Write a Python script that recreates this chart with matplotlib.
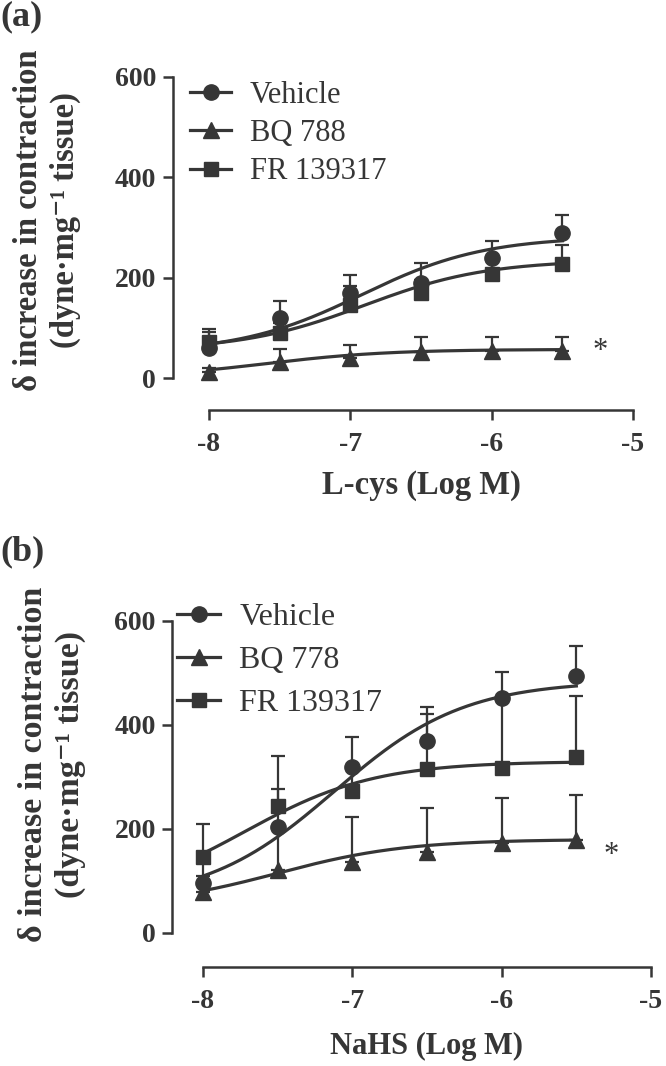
import numpy as np
import matplotlib
matplotlib.use("Agg")
import matplotlib.pyplot as plt

plt.rcParams["font.family"] = ["Liberation Serif", "DejaVu Serif"]

INK = "#363636"
W, H = 666, 1066

# log concentrations
logc = [-8, -7.5, -7, -6.5, -6, -5.5]

# panel (a): L-cys
a_names = ["Vehicle", "BQ 788", "FR 139317"]
a_mean = {"Vehicle": [59, 119, 170, 190, 240, 289],
          "BQ 788": [12, 32, 40, 51, 53, 53],
          "FR 139317": [71, 89, 145, 170, 208, 228]}
a_sem = {"Vehicle": [38, 35, 36, 40, 33, 36],
         "BQ 788": [8, 25, 25, 30, 28, 28],
         "FR 139317": [20, 20, 39, 26, 25, 37]}
# fitted sigmoid (bottom, top, logEC50, hill)
a_fit = {"Vehicle": (50, 282, -6.92, 1.0),
         "BQ 788": (0, 57, -7.6, 1.0),
         "FR 139317": (55, 235, -6.9, 1.0)}

# panel (b): NaHS
b_names = ["Vehicle", "BQ 778", "FR 139317"]
b_mean = {"Vehicle": [96, 204, 319, 369, 452, 494],
          "BQ 778": [79, 121, 137, 156, 173, 179],
          "FR 139317": [146, 244, 273, 315, 317, 338]}
b_sem = {"Vehicle": [50, 73, 58, 66, 50, 58],
         "BQ 778": [30, 85, 86, 84, 87, 86],
         "FR 139317": [64, 96, 40, 106, 130, 118]}
b_fit = {"Vehicle": (60, 485, -7.12, 1.0),
         "BQ 778": (50, 180, -7.5, 1.0),
         "FR 139317": (60, 330, -7.72, 1.0)}

MARK = {0: ("o", 11), 1: ("^", 11), 2: ("s", 10)}


def sigmoid(x, bottom, top, ec50, hill):
    return bottom + (top - bottom) / (1 + 10 ** ((ec50 - x) * hill))


def panel(ax, names, mean, sem, fit, xlabel, xl_size, xl_pad, out_left, out_bottom,
          leg_xy, leg_size, leg_space):
    xs = np.linspace(-8, -5.5, 200)
    handles = []
    for k, n in enumerate(names):
        m, ms = MARK[k]
        err = [np.zeros(len(logc)), sem[n]]
        ax.errorbar(logc, mean[n], yerr=err, fmt="none", ecolor=INK, elinewidth=1.6,
                    capsize=5, capthick=1.6, clip_on=False, zorder=2)
        ax.plot(xs, sigmoid(xs, *fit[n]), color=INK, lw=2.3, zorder=3, clip_on=False)
        ax.plot(logc, mean[n], m, color=INK, ms=ms, zorder=4, clip_on=False)
        h, = ax.plot([], [], color=INK, lw=2.3, marker=m, ms=ms)
        handles.append(h)
    ax.set_xlim(-8, -5)
    ax.set_ylim(0, 600)
    for s in ("top", "right"):
        ax.spines[s].set_visible(False)
    ax.spines["left"].set_position(("outward", out_left))
    ax.spines["bottom"].set_position(("outward", out_bottom))
    ax.spines["left"].set_bounds(0, 600)
    ax.spines["bottom"].set_bounds(-8, -5)
    for s in ("left", "bottom"):
        ax.spines[s].set_linewidth(1.8)
        ax.spines[s].set_color(INK)
    ax.set_xticks([-8, -7, -6, -5])
    ax.set_xticklabels(["-8", "-7", "-6", "-5"])
    ax.set_yticks([0, 200, 400, 600])
    ax.tick_params(colors=INK, width=1.8, length=7, labelsize=20)
    ax.tick_params(axis="x", pad=9)
    ax.tick_params(axis="y", pad=5)
    for t in ax.get_xticklabels() + ax.get_yticklabels():
        t.set_fontweight("bold")
    ax.set_xlabel(xlabel, fontsize=xl_size, fontweight="bold", color=INK, labelpad=xl_pad)
    ax.legend(handles, names, loc="upper left", bbox_to_anchor=leg_xy,
              bbox_transform=ax.figure.transFigure, frameon=False, fontsize=leg_size,
              handlelength=1.35, handletextpad=0.6, labelspacing=leg_space, borderpad=0,
              borderaxespad=0, labelcolor=INK)


fig = plt.figure(figsize=(W / 100, H / 100), dpi=100)

ax_a = fig.add_axes([209 / W, 1 - 378 / H, (633 - 209) / W, (378 - 77) / H])
panel(ax_a, a_names, a_mean, a_sem, a_fit, "L-cys (Log M)", 23.5, 9, 26, 23,
      (190 / W, 1 - 81 / H), 22, 0.3)
ax_a.text(-5.23, 52, "*", fontsize=22, color=INK, ha="center", va="center")

ax_b = fig.add_axes([203 / W, 1 - 933 / H, (651 - 203) / W, (933 - 621) / H])
panel(ax_b, b_names, b_mean, b_sem, b_fit, "NaHS (Log M)", 22, 13, 22, 24.5,
      (177 / W, 1 - 603 / H), 23, 0.42)
ax_b.text(-5.27, 150, "*", fontsize=22, color=INK, ha="center", va="center")

ylab1 = "δ increase in contraction"
ylab2 = "(dyne·mg⁻¹ tissue)"
# (x line 1, x line 2, y centre, font size)
for x1, x2, yc, fs in [(29, 65, 220, 23.5), (34, 70, 764, 24.5)]:
    fig.text(x1 / W, 1 - yc / H, ylab1, rotation=90, fontsize=fs, fontweight="bold",
             color=INK, ha="center", va="center")
    fig.text(x2 / W, 1 - yc / H, ylab2, rotation=90, fontsize=fs, fontweight="bold",
             color=INK, ha="center", va="center")

fig.text(0 / W, 1 - 0 / H, "(a)", fontsize=26, fontweight="bold", color=INK,
         ha="left", va="top")
fig.text(0 / W, 1 - 535 / H, "(b)", fontsize=26, fontweight="bold", color=INK,
         ha="left", va="top")

fig.savefig("out.png", dpi=100)
